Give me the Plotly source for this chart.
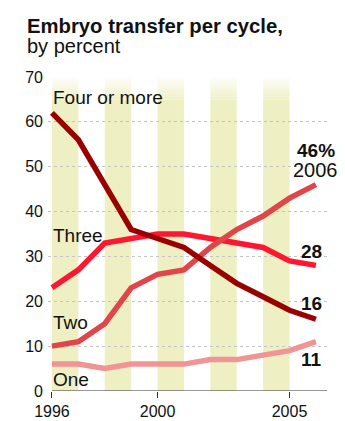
import plotly.graph_objects as go

years = [1996, 1997, 1998, 1999, 2000, 2001, 2002, 2003, 2004, 2005, 2006]
four_or_more = [62, 56, 46, 36, 34, 32, 28, 24, 21, 18, 16]
three = [23, 27, 33, 34, 35, 35, 34, 33, 32, 29, 28]
two = [10, 11, 15, 23, 26, 27, 32, 36, 39, 43, 46]
one = [6, 6, 5, 6, 6, 6, 7, 7, 8, 9, 11]
band_starts = [1996, 1998, 2000, 2002, 2004]
x_ticks = [1996, 2000, 2005]
y_ticks = [0, 10, 20, 30, 40, 50, 60, 70]

FONT = "Liberation Sans, Arial, sans-serif"
BAND = "#efefc4"

series = [
    ("One", one, "#f09494"),
    ("Three", three, "#ff1630"),
    ("Two", two, "#e0454a"),
    ("Four or more", four_or_more, "#990000"),
]

fig = go.Figure()
for name, vals, col in series:
    fig.add_trace(go.Scatter(x=years, y=vals, mode="lines", name=name,
                             line=dict(color=col, width=5.5),
                             hoverinfo="skip"))

shapes = []
for b in band_starts:
    shapes.append(dict(type="rect", xref="x", yref="y", x0=b, x1=b + 1,
                       y0=0, y1=65, fillcolor=BAND, line_width=0, layer="below"))
    n = 8
    for i in range(n):
        y0 = 65 + i * 5 / n
        shapes.append(dict(type="rect", xref="x", yref="y", x0=b, x1=b + 1,
                           y0=y0, y1=y0 + 5 / n, fillcolor=BAND,
                           opacity=1 - (i + 1) / (n + 1), line_width=0, layer="below"))
shapes.append(dict(type="line", xref="x", yref="y", x0=1996, x1=2006.42,
                   y0=0, y1=0, line=dict(color="#333", width=1.2)))

ann = []
def label(text, x, y, xanchor="left", bold=False, size=19):
    t = f"<b>{text}</b>" if bold else text
    ann.append(dict(text=t, x=x, y=y, xref="x", yref="y", xanchor=xanchor,
                    yanchor="middle", showarrow=False,
                    font=dict(family=FONT, size=size, color="#111")))

label("Four or more", 1995.98, 65.5)
label("Three", 1995.98, 34.6)
label("Two", 1995.98, 15.2)
label("One", 1995.98, 2.5)
label("46%", 2006.0, 53.7, xanchor="center", bold=True)
label("2006", 2006.0, 49.3, xanchor="center", size=20)
label("28", 2005.85, 31.2, xanchor="center", bold=True)
label("16", 2005.85, 19.4, xanchor="center", bold=True)
label("11", 2005.85, 7.1, xanchor="center", bold=True)

# title lines positioned relative to plot area (top 77px, height 314px, left 48px, width 279px)
ann.append(dict(text="<b>Embryo transfer per cycle,</b>", x=(25 - 48) / 279, y=(391 - 26) / 314,
                xref="paper", yref="paper", xanchor="left", yanchor="middle",
                showarrow=False, font=dict(family=FONT, size=20.3, color="#111")))
ann.append(dict(text="by percent", x=(25 - 48) / 279, y=(391 - 46) / 314,
                xref="paper", yref="paper", xanchor="left", yanchor="middle",
                showarrow=False, font=dict(family=FONT, size=20, color="#111")))

fig.update_layout(
    width=345, height=421,
    margin=dict(l=48, r=18, t=77, b=30, pad=0),
    paper_bgcolor="white", plot_bgcolor="white",
    showlegend=False,
    shapes=shapes,
    annotations=ann,
    font=dict(family=FONT, color="#111"),
    xaxis=dict(range=[1995.85, 2006.42], tickvals=x_ticks, ticks="outside",
               ticklen=6, tickcolor="#333", showgrid=False, zeroline=False,
               showline=False, automargin=False,
               tickfont=dict(size=16, family=FONT, color="#111")),
    yaxis=dict(range=[0, 70], tickvals=y_ticks, showgrid=True,
               gridcolor="#c4c4c4", griddash="dot", gridwidth=1,
               zeroline=False, showline=False, ticks="", automargin=False,
               ticklabelstandoff=4,
               tickfont=dict(size=16, family=FONT, color="#111")),
)
fig.write_html("out.html")
